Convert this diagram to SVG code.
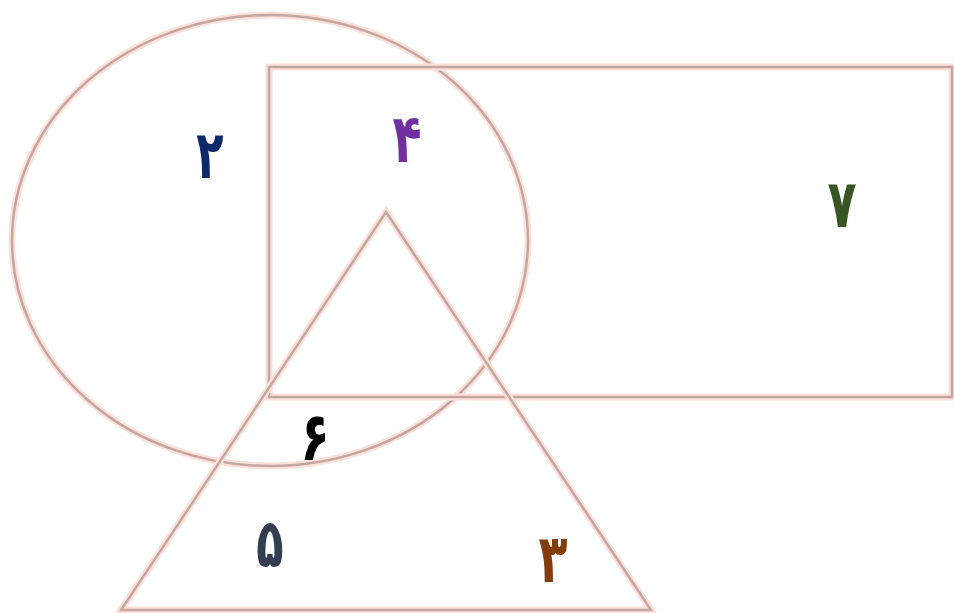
<svg xmlns="http://www.w3.org/2000/svg" width="954" height="613" viewBox="0 0 954 613">
<style>
.halo{fill:none;stroke:#fbe1d9;stroke-width:7;stroke-linejoin:miter}
.line{fill:none;stroke:#c6a6a0;stroke-width:2.5;stroke-linejoin:miter}
.num{font-family:"DejaVu Sans",sans-serif;font-weight:bold;font-size:56px;text-anchor:middle}
</style>
<rect width="954" height="613" fill="#ffffff"/>
<g id="shapes">
<g id="circle">
<ellipse class="halo" cx="270" cy="240.5" rx="258" ry="225.5"/>
<ellipse class="line" cx="270" cy="240.5" rx="258" ry="225.5"/>
</g>
<g id="rectangle">
<rect class="halo" x="269" y="67" width="683" height="330"/>
<rect class="line" x="269" y="67" width="683" height="330"/>
</g>
<g id="triangle">
<polygon class="halo" points="386,212 651,610 121,610"/>
<polygon class="line" points="386,212 651,610 121,610"/>
</g>
</g>
<g id="labels">
<g id="n2"><text class="num" transform="translate(210,178) scale(0.8,1.2)" fill="#0c2a6a">۲</text></g>
<g id="n4"><text class="num" transform="translate(407,162) scale(0.85,1.2)" fill="#7030a0">۴</text></g>
<g id="n7"><text class="num" transform="translate(842,227) scale(0.85,1.2)" fill="#375623">۷</text></g>
<g id="n6"><text class="num" transform="translate(315,460) scale(0.85,1.2)" fill="#000000">۶</text></g>
<g id="n5"><text class="num" transform="translate(270,567) scale(0.8,1.2)" fill="#333f50">۵</text></g>
<g id="n3"><text class="num" transform="translate(553,582) scale(0.85,1.2)" fill="#843c0c">۳</text></g>
</g>
</svg>
